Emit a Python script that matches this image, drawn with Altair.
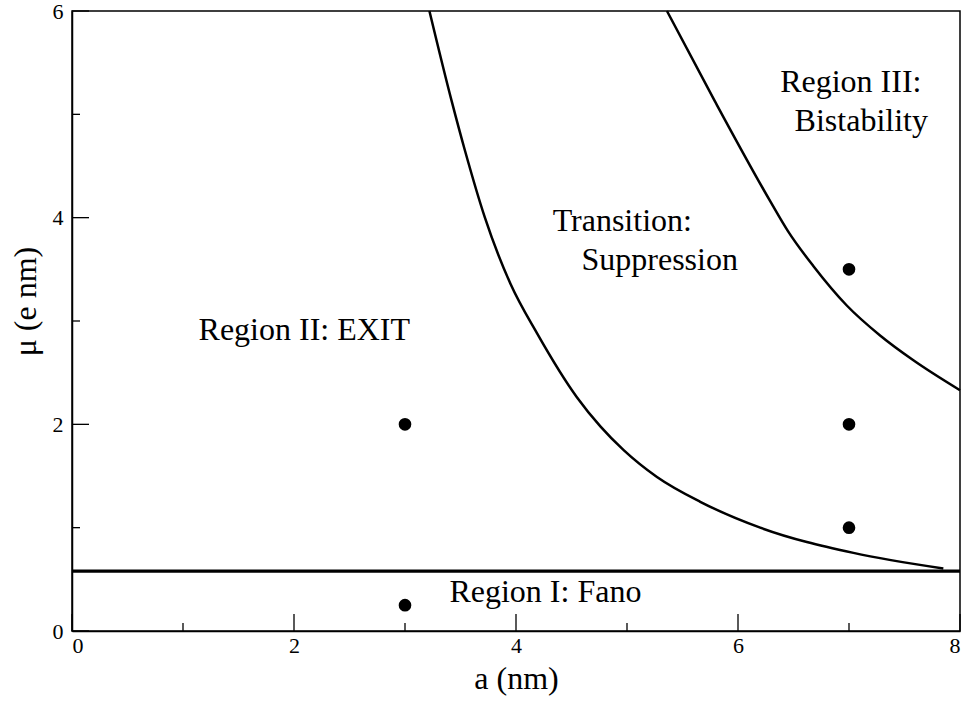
import altair as alt
import pandas as pd

# Phase boundary between Region II and the transition zone
a_lower = [3.22, 3.42, 3.54, 3.72, 3.95, 4.19, 4.55, 4.76, 4.97, 5.27, 5.66, 6.20, 7.04, 7.85]
mu_lower = [6.0, 5.13, 4.65, 4.0, 3.36, 2.88, 2.26, 1.98, 1.75, 1.49, 1.25, 1.0, 0.756, 0.605]

# Phase boundary between the transition zone and Region III
a_upper = [5.36, 5.79, 6.29, 6.45, 6.68, 6.98, 7.28, 7.58, 8.0]
mu_upper = [6.0, 5.13, 4.16, 3.87, 3.53, 3.15, 2.86, 2.62, 2.33]

# Fano threshold (horizontal boundary of Region I)
fano_a = [0.0, 8.0]
fano_mu = [0.58, 0.58]

# Sample parameter points
pts_a = [3, 3, 7, 7, 7]
pts_mu = [2.0, 0.25, 3.5, 2.0, 1.0]

# Region annotations
lab_text = ["Region II: EXIT", "Transition:", "Suppression", "Region III:", "Bistability", "Region I: Fano"]
lab_a = [1.14, 4.33, 4.59, 6.38, 6.51, 3.40]
lab_mu = [2.91, 3.97, 3.59, 5.31, 4.94, 0.38]

x_major = [0, 2, 4, 6, 8]
x_minor = [1, 3, 5, 7]
y_major = [0, 2, 4, 6]
y_minor = [1, 3, 5]

W, H = 888, 620
FONT = "Times New Roman, Liberation Serif, Times, serif"
MAJ, MIN = 17, 8

xs = alt.Scale(domain=[0, 8], nice=False, zero=False)
ys = alt.Scale(domain=[0, 6], nice=False, zero=False)

x_axis = alt.Axis(values=x_major, format="d", ticks=False, grid=False, domainColor="black",
                  domainWidth=1.5, labelFont=FONT, labelFontSize=22, labelColor="black",
                  labelPadding=4, title="a (nm)", titleFont=FONT, titleFontSize=32,
                  titleFontWeight="normal", titleColor="black", titlePadding=7)
y_axis = alt.Axis(values=y_major, format="d", ticks=False, grid=False, domainColor="black",
                  domainWidth=1.5, labelFont=FONT, labelFontSize=22, labelColor="black",
                  labelPadding=9, title="μ  (e nm)", titleFont=FONT, titleFontSize=32,
                  titleFontWeight="normal", titleColor="black", titlePadding=10, titleY=290)

lower_df = pd.DataFrame({"a": a_lower, "mu": mu_lower})
upper_df = pd.DataFrame({"a": a_upper, "mu": mu_upper})
fano_df = pd.DataFrame({"a": fano_a, "mu": fano_mu})
pts_df = pd.DataFrame({"a": pts_a, "mu": pts_mu})
lab_df = pd.DataFrame({"a": lab_a, "mu": lab_mu, "t": lab_text})

lower = alt.Chart(lower_df).mark_line(color="black", strokeWidth=2.5, interpolate="monotone").encode(
    x=alt.X("a:Q", scale=xs, axis=x_axis), y=alt.Y("mu:Q", scale=ys, axis=y_axis), order="a:Q")
upper = alt.Chart(upper_df).mark_line(color="black", strokeWidth=2.5, interpolate="monotone").encode(
    x=alt.X("a:Q", scale=xs), y=alt.Y("mu:Q", scale=ys))
fano = alt.Chart(fano_df).mark_line(color="black", strokeWidth=3.2).encode(
    x=alt.X("a:Q", scale=xs), y=alt.Y("mu:Q", scale=ys))
pts = alt.Chart(pts_df).mark_circle(color="black", opacity=1, size=160).encode(
    x=alt.X("a:Q", scale=xs), y=alt.Y("mu:Q", scale=ys))
labels = alt.Chart(lab_df).mark_text(font=FONT, fontSize=32, color="black", align="left",
                                     baseline="middle").encode(
    x=alt.X("a:Q", scale=xs), y=alt.Y("mu:Q", scale=ys), text="t:N")

# Inward-pointing axis ticks
xmaj = alt.Chart(pd.DataFrame({"v": x_major})).mark_rule(color="black", strokeWidth=1.3).encode(
    x=alt.X("v:Q", scale=xs), y=alt.value(H), y2=alt.value(H - MAJ))
xmin = alt.Chart(pd.DataFrame({"v": x_minor})).mark_rule(color="black", strokeWidth=1.3).encode(
    x=alt.X("v:Q", scale=xs), y=alt.value(H), y2=alt.value(H - MIN))
ymaj = alt.Chart(pd.DataFrame({"v": y_major})).mark_rule(color="black", strokeWidth=1.3).encode(
    y=alt.Y("v:Q", scale=ys), x=alt.value(0), x2=alt.value(MAJ))
ymin = alt.Chart(pd.DataFrame({"v": y_minor})).mark_rule(color="black", strokeWidth=1.3).encode(
    y=alt.Y("v:Q", scale=ys), x=alt.value(0), x2=alt.value(MIN))

chart = alt.layer(lower, upper, fano, pts, labels, xmaj, xmin, ymaj, ymin).properties(
    width=W, height=H,
    autosize=alt.AutoSizeParams(type="none"),
    padding={"left": 72, "top": 11, "right": 12, "bottom": 71},
    background="white",
).configure_view(stroke="black", strokeWidth=1.5)

chart.save("out.html", embed_options={"renderer": "svg", "actions": False})
